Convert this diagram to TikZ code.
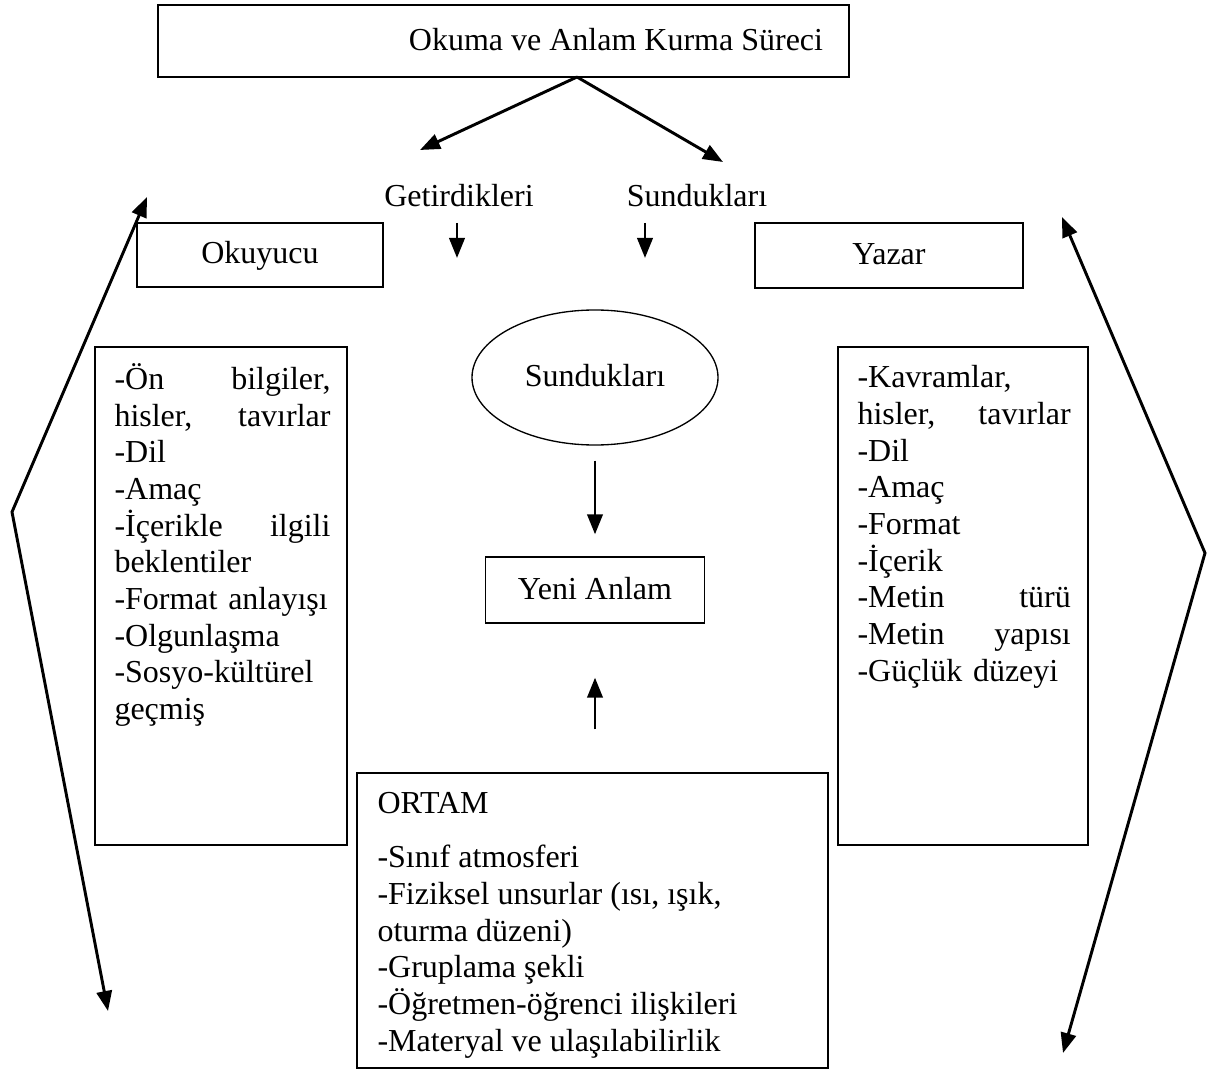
\documentclass[tikz,border=0pt]{standalone}
\usepackage{fontspec}
\setmainfont{Liberation Serif}
\usetikzlibrary{arrows.meta,shapes.geometric,calc}
\tikzset{every picture/.style={line width=0.75pt}}

\begin{document}
\begin{tikzpicture}[x=0.75pt,y=0.75pt,yscale=-1,xscale=1,
  box/.style={draw,line width=1pt,inner sep=0pt,font=\fontsize{24}{27.5}\selectfont,text height=17.5pt,text depth=4pt},
  lbl/.style={inner sep=0pt,font=\fontsize{24}{27.5}\selectfont},
  arr/.style={line width=2.2pt,-{Triangle[length=15pt,width=11.5pt]}},
  arrs/.style={line width=2.2pt,{Triangle[length=15pt,width=11.5pt]}-{Triangle[length=15pt,width=11.5pt]}}]
\useasboundingbox (0,0) rectangle (1208,1070);

%Shape: Rectangle [title]
\node (surec) [box,minimum width=518.25pt,minimum height=54pt] at (503.5,41) {};
% Text Node
\node (surect) [lbl,anchor=base] at (616,51) {Okuma ve Anlam Kurma Süreci};

% Text Node
\node (getir) [lbl,anchor=base] at (459,207) {Getirdikleri};
% Text Node
\node (sundu) [lbl,anchor=base] at (697,207) {Sundukları};

%Shape: Rectangle
\node (okuyucu) [box,minimum width=184.5pt,minimum height=48pt] at (260,255) {Okuyucu};
%Shape: Rectangle
\node (yazar) [box,minimum width=201pt,minimum height=48.75pt] at (889,255.5) {Yazar};

%Shape: Rectangle [left list]
\node (okl) [box,minimum width=189pt,minimum height=373.5pt] at (221,596) {};
% Text Node
\node (oklt) [lbl,anchor=north west,text width=162pt,align=left] at (114,363) {-Ön\hfill bilgiler,\\
hisler,\hfill tavırlar\\
-Dil\\
-Amaç\\
-İçerikle\hfill ilgili\\
beklentiler\\
-Format anlayışı\\
-Olgunlaşma\\
-Sosyo-kültürel\\
geçmiş};

%Shape: Rectangle [right list]
\node (yzl) [box,minimum width=187.5pt,minimum height=373.5pt] at (963,596) {};
% Text Node
\node (yzlt) [lbl,anchor=north west,text width=160pt,align=left] at (857,365) {-Kavramlar,\\
hisler,\hfill tavırlar\\
-Dil\\
-Amaç\\
-Format\\
-İçerik\\
-Metin\hfill türü\\
-Metin\hfill yapısı\\
-Güçlük düzeyi};

%Shape: Ellipse
\node (sund) [box,ellipse,minimum width=184.5pt,minimum height=101.25pt] at (595,377.5) {Sundukları};
%Shape: Rectangle
\node (yeni) [box,minimum width=164.25pt,minimum height=49.5pt] at (595,590) {Yeni Anlam};

%Shape: Rectangle [ORTAM]
\node (ortam) [box,minimum width=353.25pt,minimum height=221.25pt] at (592.5,920.5) {};
% Text Node
\node (ortamt) [lbl,anchor=north west,align=left] at (377,792) {ORTAM\\[13pt]
-Sınıf atmosferi\\
-Fiziksel unsurlar (ısı, ışık,\\
oturma düzeni)\\
-Gruplama şekli\\
-Öğretmen-öğrenci ilişkileri\\
-Materyal ve ulaşılabilirlik};

%Straight Lines
\coordinate (split) at (577,77);
\coordinate (getirtip) at (420,150);
\coordinate (sundtip) at (723,162);
\draw [arr] (split) -- (getirtip);
\draw [arr] (split) -- (sundtip);

%Straight Lines
\coordinate (g1) at (457,223);
\coordinate (g2) at (457,258);
\coordinate (s1) at (645,223);
\coordinate (s2) at (645,258);
\draw [arr] (g1) -- (g2);
\draw [arr] (s1) -- (s2);

%Straight Lines
\draw [arr] ($(sund.south)+(0,15)$) -- ($(yeni.north)+(0,-22)$);
\draw [arr] ($(ortam.north -| yeni.south)+(0,-43)$) -- ($(yeni.south)+(0,54)$);

%Straight Lines [left side]
\coordinate (lt) at (147,197);
\coordinate (lv) at (12,512);
\coordinate (lb) at (108,1011);
\draw [arrs] (lt) -- (lv) -- (lb);

%Straight Lines [right side]
\coordinate (rt) at (1062,217);
\coordinate (rv) at (1205,553);
\coordinate (rb) at (1063,1053);
\draw [arrs] (rt) -- (rv) -- (rb);

\end{tikzpicture}
\end{document}
